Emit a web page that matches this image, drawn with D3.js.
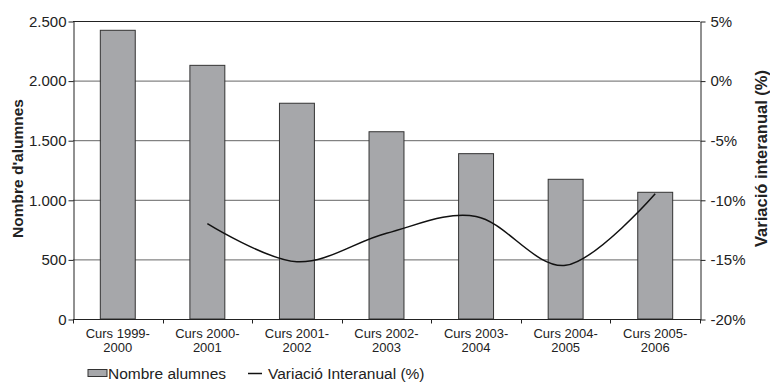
<!DOCTYPE html>
<head>
<meta charset="utf-8">
<style>
body { margin: 0; background: #fff; }
svg { display: block; }
text { font-family: "Liberation Sans", Arial, sans-serif; fill: #222; }
.grid { stroke: #666; stroke-width: 1px; }
.axis path, .axis line { stroke: #222; }
</style>
</head>
<body>
<script src="https://cdn.jsdelivr.net/npm/d3@7"></script>
<script>
  // data
  var cursos = [["Curs 1999-", "2000"], ["Curs 2000-", "2001"], ["Curs 2001-", "2002"],
                ["Curs 2002-", "2003"], ["Curs 2003-", "2004"], ["Curs 2004-", "2005"],
                ["Curs 2005-", "2006"]];
  var alumnes = [2422, 2128, 1810, 1571, 1387, 1172, 1063];
  var variacio = [null, -12.0, -15.2, -12.8, -11.4, -15.5, -9.5];
  var leftTicks = [0, 500, 1000, 1500, 2000, 2500];
  var rightTicks = [-20, -15, -10, -5, 0, 5];

  var W = 770, H = 383;
  var x0 = 73, x1 = 700, yTop = 21, yBot = 319;

  var svg = d3.select("body").append("svg")
      .attr("width", W)
      .attr("height", H);

  var x = d3.scaleBand().domain(d3.range(cursos.length)).range([x0, x1]).paddingInner(0.61).paddingOuter(0.305);
  var xStep = d3.scaleLinear().domain([0, cursos.length]).range([x0, x1]);
  var y = d3.scaleLinear().domain([0, 2500]).range([yBot, yTop]);
  var y2 = d3.scaleLinear().domain([-20, 5]).range([yBot, yTop]);

  var fmt = function (d) { return d3.format(",")(d).replace(/,/g, "."); };

  // horizontal grid
  svg.selectAll("line.grid")
    .data(leftTicks.filter(function (d) { return d > 0; }))
    .enter().append("line")
      .attr("class", "grid")
      .attr("x1", x0).attr("x2", x1)
      .attr("y1", function (d) { return y(d) + 0.5; })
      .attr("y2", function (d) { return y(d) + 0.5; })
      .style("stroke", function (d) { return d === 2500 ? "#222" : "#666"; });

  // bars
  svg.selectAll("rect.bar")
    .data(alumnes)
    .enter().append("rect")
      .attr("class", "bar")
      .attr("x", function (d, i) { return x(i); })
      .attr("y", function (d) { return y(d); })
      .attr("width", x.bandwidth())
      .attr("height", function (d) { return yBot - y(d); })
      .style("fill", "#a6a7aa")
      .style("stroke", "#333")
      .style("stroke-width", 1);

  // left axis
  svg.append("g")
      .attr("class", "axis")
      .attr("transform", "translate(" + (x0 + 0.5) + ",0.5)")
      .call(d3.axisLeft(y).tickValues(leftTicks).tickSize(5).tickSizeOuter(0).tickPadding(2).tickFormat(fmt))
      .call(function (g) { g.selectAll("text").style("font-size", "15px").style("fill", "#222"); });

  // right axis
  svg.append("g")
      .attr("class", "axis")
      .attr("transform", "translate(" + (x1 + 0.5) + ",0.5)")
      .call(d3.axisRight(y2).tickValues(rightTicks).tickSize(5).tickSizeOuter(0).tickPadding(5)
        .tickFormat(function (d) { return d + "%"; }))
      .call(function (g) { g.selectAll("text").style("font-size", "15px").style("fill", "#222"); });

  // bottom axis with ticks between categories
  var bottom = svg.append("g")
      .attr("class", "axis")
      .attr("transform", "translate(0," + (yBot + 0.5) + ")");
  bottom.append("line").attr("x1", x0).attr("x2", x1 + 1).style("stroke", "#222");
  bottom.selectAll("line.tk")
    .data(d3.range(cursos.length + 1))
    .enter().append("line")
      .attr("class", "tk")
      .attr("x1", function (d) { return Math.round(xStep(d)) + 0.5; })
      .attr("x2", function (d) { return Math.round(xStep(d)) + 0.5; })
      .attr("y1", 0).attr("y2", 4)
      .style("stroke", "#222");
  var xl = bottom.selectAll("text.xl")
    .data(cursos)
    .enter().append("text")
      .attr("class", "xl")
      .attr("x", function (d, i) { return x(i) + x.bandwidth() / 2; })
      .attr("y", 18.5)
      .style("font-size", "13px")
      .style("text-anchor", "middle");
  xl.append("tspan").text(function (d) { return d[0]; });
  xl.append("tspan")
      .attr("x", function (d, i) { return x(i) + x.bandwidth() / 2; })
      .attr("dy", 14)
      .text(function (d) { return d[1]; });

  // top border
  svg.append("line")
      .attr("x1", x0).attr("x2", x1)
      .attr("y1", yTop + 0.5).attr("y2", yTop + 0.5)
      .style("stroke", "#222");

  // line series
  var line = d3.line()
      .defined(function (d) { return d !== null; })
      .x(function (d, i) { return x(i) + x.bandwidth() / 2; })
      .y(function (d) { return y2(d); })
      .curve(d3.curveCardinal.tension(0));
  svg.append("path")
      .attr("d", line(variacio))
      .style("fill", "none")
      .style("stroke", "#111")
      .style("stroke-width", 1.5);

  // axis titles
  svg.append("text")
      .attr("transform", "translate(22.5,168.5) rotate(-90)")
      .style("text-anchor", "middle")
      .style("font-size", "15.5px")
      .style("font-weight", "bold")
      .text("Nombre d'alumnes");
  svg.append("text")
      .attr("transform", "translate(767,158.5) rotate(-90)")
      .style("text-anchor", "middle")
      .style("font-size", "16.5px")
      .style("font-weight", "bold")
      .text("Variació interanual (%)");

  // legend
  var leg = svg.append("g").attr("transform", "translate(0,373)");
  leg.append("rect")
      .attr("x", 88).attr("y", -3.5).attr("width", 19).attr("height", 7)
      .style("fill", "#a6a7aa").style("stroke", "#333");
  leg.append("text").attr("x", 108).attr("y", 6).style("font-size", "15.5px").text("Nombre alumnes");
  leg.append("line")
      .attr("x1", 248).attr("x2", 262).attr("y1", 0.5).attr("y2", 0.5)
      .style("stroke", "#111").style("stroke-width", 1.5);
  leg.append("text").attr("x", 268).attr("y", 6).style("font-size", "15.5px").text("Variació Interanual (%)");
</script>
</body>
